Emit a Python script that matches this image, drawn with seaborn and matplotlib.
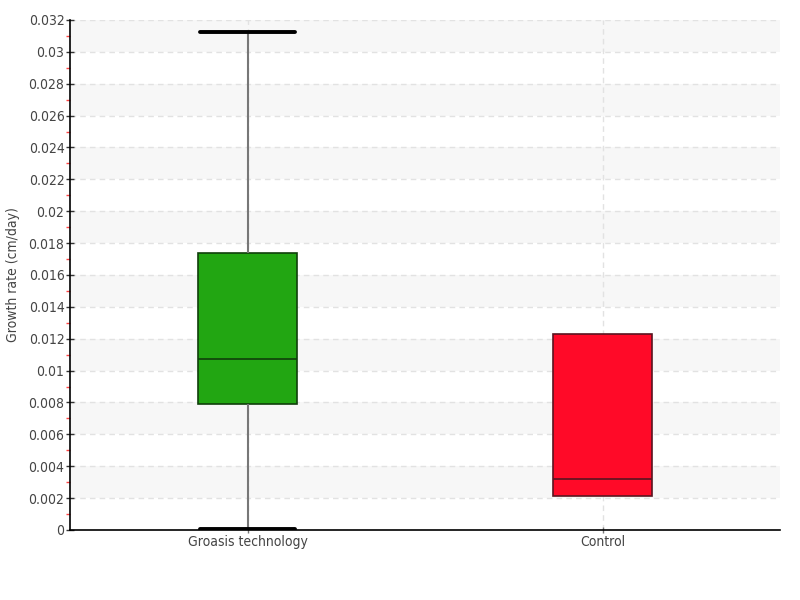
import numpy as np
import pandas as pd
import matplotlib
matplotlib.use("Agg")
import matplotlib.pyplot as plt
from matplotlib.ticker import MultipleLocator, FuncFormatter
import seaborn as sns

# five-number summaries (min, Q1, median, Q3, max)
groasis = [0.00005, 0.00791, 0.01073, 0.01738, 0.03125]
control = [0.00213, 0.00213, 0.0032, 0.0123, 0.0123]
categories = ["Groasis technology", "Control"]
colors = ["#22a612", "#ff0a28"]
edge_colors = ["#0f3f0a", "#5a1420"]

df = pd.DataFrame({
    "group": [categories[0]] * len(groasis) + [categories[1]] * len(control),
    "rate": groasis + control,
})

sns.set_theme(style="white")
plt.rcParams["font.family"] = ["DejaVu Sans"]
plt.rcParams["font.stretch"] = "condensed"

fig = plt.figure(figsize=(8, 6), dpi=100)
ax = fig.add_axes([0.0875, 0.1167, 0.8875, 0.85])

# alternating background bands
for lo in np.arange(0.002, 0.032, 0.004):
    ax.axhspan(lo, lo + 0.002, color="#f7f7f7", zorder=0, lw=0)

sns.boxplot(data=df, x="group", y="rate", hue="group", palette=colors,
            order=categories, hue_order=categories, legend=False,
            width=0.28, ax=ax, capwidths=0.27, saturation=1,
            whiskerprops=dict(color="#777777", linewidth=1.5),
            capprops=dict(color="black", linewidth=2.8),
            medianprops=dict(linewidth=1.2),
            linewidth=1.2, showfliers=False)

for i, patch in enumerate(ax.patches[-2:]):
    patch.set_edgecolor(edge_colors[i])

stats_list = [groasis, control]
for line in ax.lines:
    x, y = np.asarray(line.get_xdata()), np.asarray(line.get_ydata())
    if len(y) != 2 or y[0] != y[1]:
        continue
    i = int(round(x.mean()))
    if abs(y[0] - stats_list[i][2]) < 1e-9:
        line.set_color(edge_colors[i])
        line.set_zorder(5)
    elif i == 1:
        # Control whiskers coincide with the box, no caps drawn
        line.set_visible(False)

ax.set_ylim(0, 0.032)
ax.set_xlim(-0.5, 1.5)
ax.yaxis.set_major_locator(MultipleLocator(0.002))
ax.yaxis.set_minor_locator(MultipleLocator(0.001))
ax.yaxis.set_major_formatter(FuncFormatter(lambda v, p: f"{round(v, 6):g}"))

ax.grid(True, axis="y", which="major", linestyle=(0, (4, 3)), color="#e2e2e2", linewidth=1)
ax.grid(True, axis="x", which="major", linestyle=(0, (4, 3)), color="#e2e2e2", linewidth=1)
ax.set_axisbelow(True)

for s in ["top", "right"]:
    ax.spines[s].set_visible(False)
for s in ["left", "bottom"]:
    ax.spines[s].set_color("black")
    ax.spines[s].set_linewidth(1.2)

ax.tick_params(axis="y", which="major", direction="inout", length=6, width=1,
               color="#333333", labelsize=10, labelcolor="#444444", left=True, pad=1)
ax.tick_params(axis="y", which="minor", direction="out", length=3, width=1,
               color="#ff4444", left=True)
ax.tick_params(axis="x", which="major", direction="inout", length=5, width=1,
               color="#777777", labelsize=10, labelcolor="#444444", bottom=True, pad=1)

ax.set_xlabel("")
ax.set_ylabel("Growth rate (cm/day)", fontsize=10, color="#444444", labelpad=6)

fig.savefig("out.png", dpi=100)
